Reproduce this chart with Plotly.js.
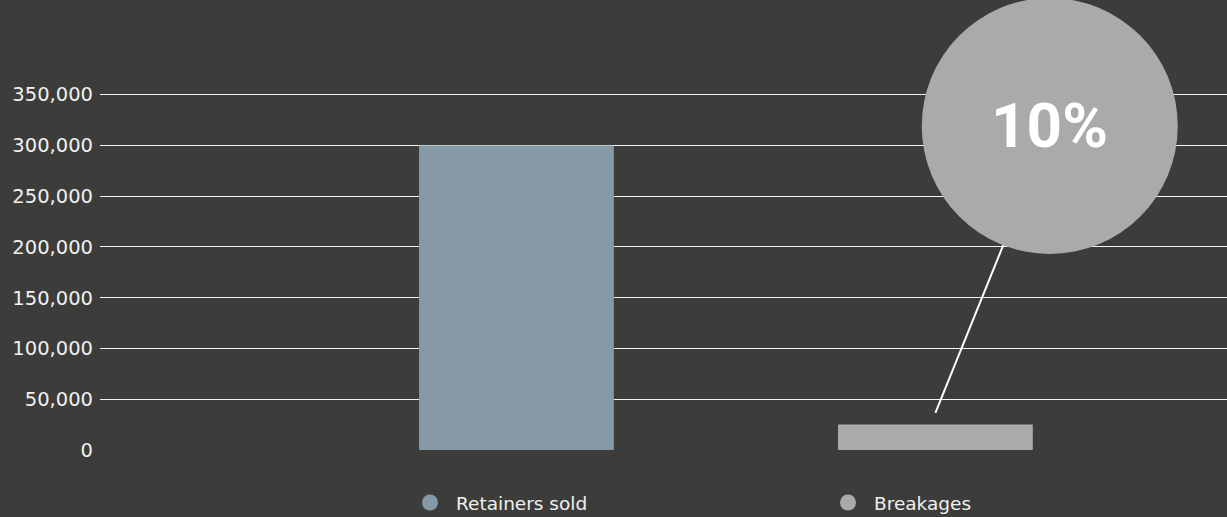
<!DOCTYPE html>
<html>
<head>
<meta charset="utf-8">
<script src="https://cdn.plot.ly/plotly-3.0.1.min.js"></script>
<style>
  html, body { margin: 0; padding: 0; background: #3c3c3a; }
  #chart { width: 1227px; height: 517px; }
</style>
</head>
<body>
<div id="chart"></div>
<script>
// ---- data ----
const categories = ["Retainers sold", "Breakages"];
const values = [300000, 25000];
const barColors = ["#8599a7", "#aaaaaa"];
const calloutText = "10%";
const yTickValues = [0, 50000, 100000, 150000, 200000, 250000, 300000, 350000];
const yTickLabels = ["0", "50,000", "100,000", "150,000", "200,000", "250,000", "300,000", "350,000"];

const traces = [];
categories.forEach((c, i) => {
  traces.push({
    type: "bar",
    x: [c],
    y: [values[i]],
    name: c,
    marker: { color: barColors[i], line: { width: 0 } },
    width: 0.465,
    showlegend: false,
    hoverinfo: "x+y"
  });
});
categories.forEach((c, i) => {
  traces.push({
    type: "scatter",
    mode: "markers",
    x: [null],
    y: [null],
    name: c,
    marker: { color: barColors[i], size: 19, symbol: "circle" },
    showlegend: true
  });
});

const layout = {
  width: 1227,
  height: 517,
  paper_bgcolor: "#3c3c3a",
  plot_bgcolor: "#3c3c3a",
  margin: { l: 100, r: 0, t: 54, b: 67 },
  font: { family: "DejaVu Sans, sans-serif", color: "#f0f0f0", size: 18.5 },
  barmode: "overlay",
  xaxis: {
    type: "category",
    categoryarray: categories,
    range: [-0.994, 1.696],
    showticklabels: false,
    showgrid: false,
    zeroline: false,
    showline: false,
    fixedrange: true
  },
  yaxis: {
    range: [0, 390000],
    tickvals: yTickValues,
    ticktext: yTickLabels,
    showgrid: true,
    gridcolor: "#f2f2f2",
    gridwidth: 1,
    zeroline: false,
    showline: false,
    ticks: "",
    ticklabelstandoff: 6,
    tickfont: { size: 19.5, color: "#f0f0f0" },
    fixedrange: true
  },
  showlegend: true,
  legend: {
    orientation: "h",
    xref: "container",
    yref: "container",
    x: 404 / 1227,
    xanchor: "left",
    y: 14 / 517,
    yanchor: "middle",
    itemwidth: 42,
    entrywidth: 361,
    entrywidthmode: "pixels",
    font: { size: 18.5, color: "#f0f0f0" },
    bgcolor: "rgba(0,0,0,0)"
  },
  shapes: [
    {
      type: "line",
      xref: "x", yref: "y",
      x0: 1.0, y0: 36500, x1: 1.17, y1: 210000,
      line: { color: "#ffffff", width: 2 },
      layer: "above"
    },
    {
      type: "circle",
      xref: "x", yref: "paper",
      xsizemode: "pixel", ysizemode: "pixel",
      xanchor: 1.273, yanchor: 0.818,
      x0: -128, x1: 128, y0: -128, y1: 128,
      fillcolor: "#aaaaaa",
      line: { width: 0 },
      layer: "above"
    }
  ],
  annotations: [
    {
      xref: "x", yref: "paper",
      x: 1.273, y: 0.82,
      text: calloutText,
      showarrow: false,
      font: { family: "Roboto, sans-serif", size: 62, color: "#ffffff", weight: "bold" },
      xanchor: "center", yanchor: "middle"
    }
  ]
};

Plotly.newPlot("chart", traces, layout, { displayModeBar: false, responsive: false });
</script>
</body>
</html>
